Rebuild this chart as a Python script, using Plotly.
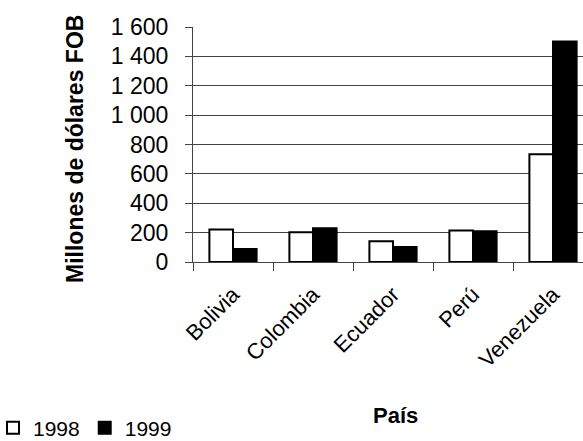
import plotly.graph_objects as go

paises = ["Bolivia", "Colombia", "Ecuador", "Perú", "Venezuela"]
v1998 = [221, 203, 141, 214, 733]
v1999 = [89, 230, 102, 210, 1502]
y_ticks = [0, 200, 400, 600, 800, 1000, 1200, 1400, 1600]
y_labels = ["0", "200", "400", "600", "800", "1 000", "1 200", "1 400", "1 600"]

FONT = "Liberation Sans, Arial, sans-serif"
PW, PH = 390, 235  # plot area size in px

fig = go.Figure()
fig.add_trace(go.Bar(x=paises, y=v1998, name="1998",
                     marker=dict(color="white", line=dict(color="black", width=2))))
fig.add_trace(go.Bar(x=paises, y=v1999, name="1999",
                     marker=dict(color="black", line=dict(color="black", width=2))))

fig.update_layout(
    width=583, height=441,
    margin=dict(l=193, r=0, t=27, b=179, autoexpand=False),
    paper_bgcolor="white", plot_bgcolor="white",
    font=dict(family=FONT, size=23, color="black"),
    barmode="group", bargap=0.41, bargroupgap=0,
    showlegend=True,
    legend=dict(orientation="h", xref="paper", yref="paper",
                x=(-193 - 7) / PW, y=(262 - 428) / PH, xanchor="left", yanchor="middle",
                font=dict(size=21), itemwidth=30, traceorder="normal"),
)
fig.update_xaxes(
    type="category", range=[-0.5, 4.375], automargin=False,
    showline=True, linecolor="#444", linewidth=1,
    ticks="outside", ticklen=8, tickcolor="#444", tickson="boundaries",
    tickangle=-45, tickfont=dict(size=22), ticklabelstandoff=10, showgrid=False,
)
fig.update_yaxes(
    range=[0, 1600], tickvals=y_ticks, ticktext=y_labels, automargin=False,
    showline=True, linecolor="#444", linewidth=1,
    ticks="outside", ticklen=7, tickcolor="#444",
    showgrid=True, gridcolor="#444", gridwidth=1,
    tickfont=dict(size=23), ticklabelstandoff=12, zeroline=False,
)
fig.add_annotation(text="<b>Millones de dólares FOB</b>", textangle=-90,
                   xref="paper", yref="paper", x=(75 - 193) / PW, y=(262 - 149) / PH,
                   xanchor="center", yanchor="middle", showarrow=False,
                   font=dict(size=23))
fig.add_annotation(text="<b>País</b>", xref="paper", yref="paper",
                   x=(395 - 193) / PW, y=(262 - 416) / PH,
                   xanchor="center", yanchor="middle",
                   showarrow=False, font=dict(size=22))

# page body has an 8px default margin; drop it so the figure sits at 0,0
fig.write_html("out.html", config={"displayModeBar": False},
               post_script="document.body.style.margin='0';")
